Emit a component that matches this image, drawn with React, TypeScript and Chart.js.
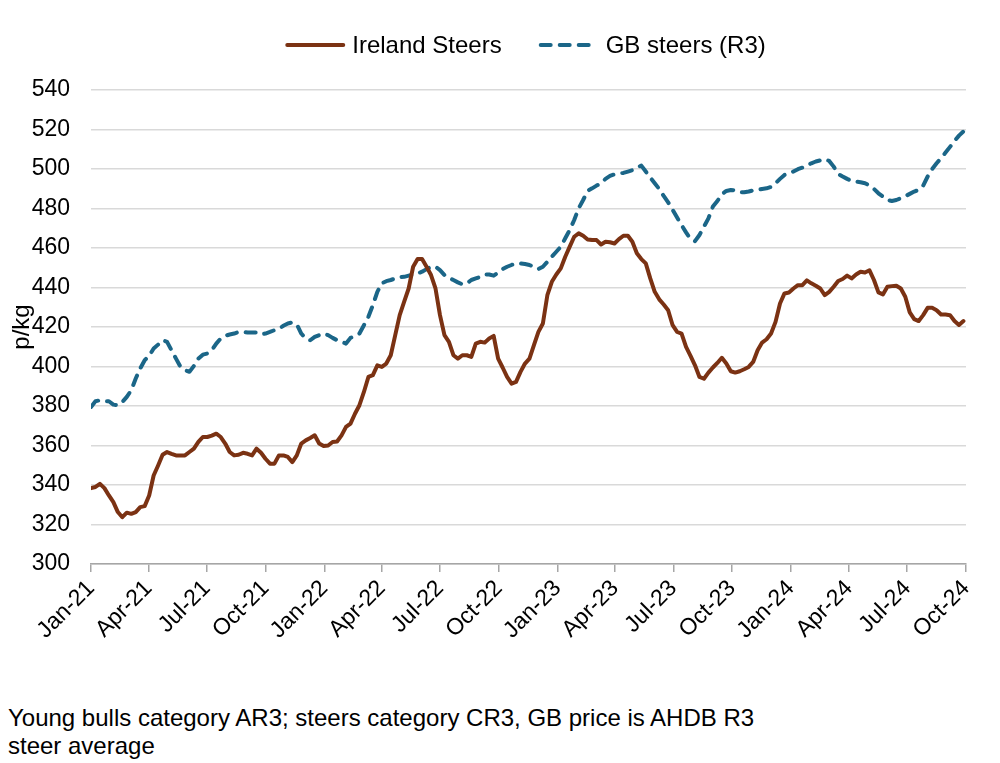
import React, { useEffect, useRef } from "react";
import { Chart, registerables } from "chart.js";

Chart.register(...registerables);

const FONT = '"Liberation Sans", Arial, Helvetica, sans-serif';

// Weekly series, first week starting at FIRST_WEEK, one value per week
const FIRST_WEEK = "2021-01-01";

const irelandSteers = [
  338.4, 339, 340.6, 338.4, 334.7, 331.3, 326.3, 323.7, 326, 325.4,
  326.3, 328.8, 329.3, 334.7, 344.8, 349.9, 355.3, 356.7, 355.8, 355,
  355, 355, 356.7, 358.4, 361.8, 364.3, 364.3, 365, 366, 364.3,
  361, 356.7, 355, 355.3, 356.3, 355.8, 355, 358.4, 356.3, 353.3,
  350.8, 350.8, 355, 355, 354.2, 351.6, 355, 361, 362.6, 363.8,
  365.2, 361, 359.7, 360, 361.8, 362, 365.1, 369.4, 371.1, 376.1,
  380.4, 387.1, 394.7, 395.6, 400.6, 399.8, 401.5, 405.7, 415.9, 426,
  432.8, 439.5, 450.5, 454.4, 454.4, 450.5, 446.3, 439.5, 426, 415.9,
  412.5, 405.7, 404, 405.7, 405.7, 404.9, 411.6, 412.5, 412.1, 414.2,
  415.5, 404, 399.5, 394.7, 391.3, 392.2, 397.3, 401.5, 404, 410.8,
  417.5, 421.8, 436.1, 442.9, 446.6, 449.7, 455.6, 460.7, 465.7, 467.4,
  466.2, 464.3, 464, 464, 461.8, 463.2, 462.9, 462.3, 464.5, 466.2,
  466.2, 463.2, 457.3, 454.4, 452.2, 444.6, 437.8, 434, 431.4, 428.5,
  420.9, 417.5, 416.7, 409.9, 405.4, 400.6, 394.7, 393.8, 396.9, 399.5,
  401.8, 404.4, 401.5, 397.6, 396.9, 397.6, 398.6, 399.8, 402.3, 408.2,
  412.1, 413.8, 416.7, 422.6, 431.9, 437, 437.5, 439.5, 441.2, 441.2,
  443.6, 442.1, 440.9, 439.5, 436.1, 437.8, 440.4, 443.3, 444.3, 446,
  444.6, 446.6, 448, 447.6, 448.7, 443.8, 437.5, 436.5, 440.4, 440.7,
  440.9, 439.5, 435.3, 427.4, 424, 423, 426, 429.7, 429.7, 428.5,
  426.3, 426.3, 426, 423, 421, 423,
];

const gbSteersR3 = [
  379.5, 382.4, 382.9, 382.4, 382.4, 380.7, 380.4, 382, 384.6, 388,
  393.9, 399, 403.2, 405.4, 409.1, 411.1, 413.3, 412.5, 408.2, 404,
  399.8, 398.1, 397.3, 400.3, 404, 406, 406.6, 408.2, 411.6, 414.2,
  415.5, 416.2, 416.7, 417.5, 417.5, 417.2, 417.2, 417.2, 416.2, 416.7,
  417.5, 418.4, 419.2, 420.6, 421.8, 422.3, 421.3, 416.7, 414.2, 413.3,
  415, 415.9, 416.7, 415.9, 414.5, 413.3, 412.5, 411.6, 414.5, 415.5,
  416.7, 420.9, 425.2, 431.1, 437.8, 442.1, 443.2, 443.8, 444.6, 445.3,
  445.4, 446, 446.6, 447.1, 448, 449.3, 450.5, 450.5, 448.8, 446.3,
  444.9, 443.8, 442.6, 441.6, 442.1, 443.8, 444.6, 445.4, 446.6, 446.6,
  446, 447.6, 449.3, 450.5, 451.4, 452.2, 452.2, 451.9, 451.4, 450.5,
  449.3, 450.5, 453, 455.6, 458.1, 460.7, 464.9, 469.1, 474.2, 480.1,
  484.3, 488.9, 490.2, 491.6, 492.8, 495, 496.5, 497.3, 497.7, 498,
  498.7, 499.4, 500.7, 501.7, 498.7, 495.7, 492.8, 489.9, 486.4, 483.1,
  479.3, 475.4, 471.6, 467.9, 464.5, 463.5, 466.6, 470.8, 475, 481,
  483.8, 487.2, 488.9, 489.4, 489.2, 488.2, 488.2, 488.6, 489.2, 489.4,
  489.9, 490.2, 490.9, 492.8, 495, 497, 497.9, 498.7, 499.9, 500.7,
  501.7, 502.9, 503.8, 504.4, 505, 504.1, 501.2, 497.5, 496.2, 495,
  494, 493.6, 493.3, 492.8, 491.6, 489.9, 487.7, 486, 484.3, 483.8,
  484.3, 485.2, 486.2, 487.4, 488.6, 489.4, 491.6, 496.2, 500, 502.9,
  505.5, 508.3, 511.2, 514.2, 516.9, 519,
];

const tickDates = [
  "2021-01-01", "2021-04-01", "2021-07-01", "2021-10-01",
  "2022-01-01", "2022-04-01", "2022-07-01", "2022-10-01",
  "2023-01-01", "2023-04-01", "2023-07-01", "2023-10-01",
  "2024-01-01", "2024-04-01", "2024-07-01", "2024-10-01",
];
const tickLabels = [
  "Jan-21", "Apr-21", "Jul-21", "Oct-21",
  "Jan-22", "Apr-22", "Jul-22", "Oct-22",
  "Jan-23", "Apr-23", "Jul-23", "Oct-23",
  "Jan-24", "Apr-24", "Jul-24", "Oct-24",
];

const yTicks = [300, 320, 340, 360, 380, 400, 420, 440, 460, 480, 500, 520, 540];

const seriesNames = ["Ireland Steers", "GB steers (R3)"];
const footnote =
  "Young bulls category AR3; steers category CR3, GB price is AHDB R3 steer average";

const DAY_MS = 86400000;
const dayOf = (s: string) =>
  Math.round((Date.parse(s + "T00:00:00Z") - Date.parse(FIRST_WEEK + "T00:00:00Z")) / DAY_MS);
const tickDays = tickDates.map(dayOf);

const legendPlugin = {
  id: "lineLegend",
  afterDraw(chart: any) {
    const { ctx, chartArea } = chart;
    ctx.save();
    ctx.font = `24px ${FONT}`;
    ctx.textBaseline = "middle";
    const sample = 60;
    const gapText = 7;
    const gapItem = 37;
    const items = chart.data.datasets.map((ds: any) => ({
      ds,
      w: sample + gapText + ctx.measureText(ds.label).width,
    }));
    const total = items.reduce((a: number, it: any) => a + it.w, 0) + gapItem * (items.length - 1);
    let x = (chartArea.left + chartArea.right) / 2 - total / 2 - 3;
    const y = 37;
    for (const it of items) {
      const ds = it.ds;
      ctx.beginPath();
      ctx.strokeStyle = ds.borderColor;
      ctx.lineWidth = ds.borderWidth;
      ctx.lineCap = "round";
      ctx.setLineDash(ds.borderDash || []);
      ctx.moveTo(x + 2, y);
      ctx.lineTo(x + sample - 2, y);
      ctx.stroke();
      ctx.setLineDash([]);
      ctx.fillStyle = "#000";
      ctx.textAlign = "left";
      ctx.fillText(ds.label, x + sample + gapText, y + 1);
      x += it.w + gapItem;
    }
    ctx.restore();
  },
};

export default function App() {
  const ref = useRef<HTMLCanvasElement | null>(null);

  useEffect(() => {
    if (!ref.current) return;
    Chart.defaults.font.family = FONT;
    const chart = new Chart(ref.current, {
      type: "line",
      data: {
        datasets: [
          {
            label: seriesNames[0],
            data: irelandSteers.map((v, i) => ({ x: i * 7, y: v })),
            borderColor: "#7b3213",
            backgroundColor: "#7b3213",
            borderWidth: 4,
            pointRadius: 0,
            borderCapStyle: "round",
            borderJoinStyle: "round",
            tension: 0,
          },
          {
            label: seriesNames[1],
            data: gbSteersR3.map((v, i) => ({ x: i * 7, y: v })),
            borderColor: "#1b6688",
            backgroundColor: "#1b6688",
            borderWidth: 4,
            borderDash: [10, 9],
            pointRadius: 0,
            borderCapStyle: "round",
            borderJoinStyle: "round",
            tension: 0,
          },
        ],
      },
      options: {
        animation: false,
        responsive: false,
        devicePixelRatio: 1,
        layout: { padding: { top: 82, right: 26, left: 0, bottom: 0 } },
        plugins: {
          legend: { display: false },
          tooltip: { enabled: false },
        },
        scales: {
          x: {
            type: "linear",
            min: tickDays[0],
            max: tickDays[tickDays.length - 1],
            afterBuildTicks: (scale: any) => {
              scale.ticks = tickDays.map((v) => ({ value: v }));
            },
            afterFit: (scale: any) => {
              scale.height = 134;
            },
            ticks: {
              autoSkip: false,
              maxRotation: 45,
              minRotation: 45,
              padding: 3,
              color: "#000",
              font: { size: 23 },
              callback: (value: any) => {
                const idx = tickDays.indexOf(Number(value));
                return idx >= 0 ? tickLabels[idx] : "";
              },
            },
            grid: {
              drawOnChartArea: false,
              drawTicks: true,
              tickLength: 8,
              color: "#a6a6a6",
              lineWidth: 1.5,
            },
            border: { display: true, color: "#a6a6a6", width: 1.5 },
          },
          y: {
            min: yTicks[0],
            max: yTicks[yTicks.length - 1],
            afterBuildTicks: (scale: any) => {
              scale.ticks = yTicks.map((v) => ({ value: v }));
            },
            afterFit: (scale: any) => {
              scale.width = 83;
            },
            ticks: {
              padding: 21,
              color: "#000",
              font: { size: 23 },
            },
            grid: {
              drawTicks: false,
              color: "#d9d9d9",
              lineWidth: 1.5,
            },
            border: { display: false },
            title: {
              display: true,
              text: "p/kg",
              color: "#000",
              font: { size: 24 },
              padding: { top: 0, bottom: 0 },
            },
          },
        },
      },
      plugins: [legendPlugin],
    });
    return () => chart.destroy();
  }, []);

  return (
    <div style={{ width: 984, fontFamily: FONT }}>
      <canvas ref={ref} width={984} height={690} style={{ display: "block", width: 984, height: 690 }} />
      <div
        style={{
          width: 790,
          marginTop: 6,
          fontSize: 24,
          lineHeight: "28px",
          color: "#000",
        }}
      >
        {footnote}
      </div>
    </div>
  );
}
